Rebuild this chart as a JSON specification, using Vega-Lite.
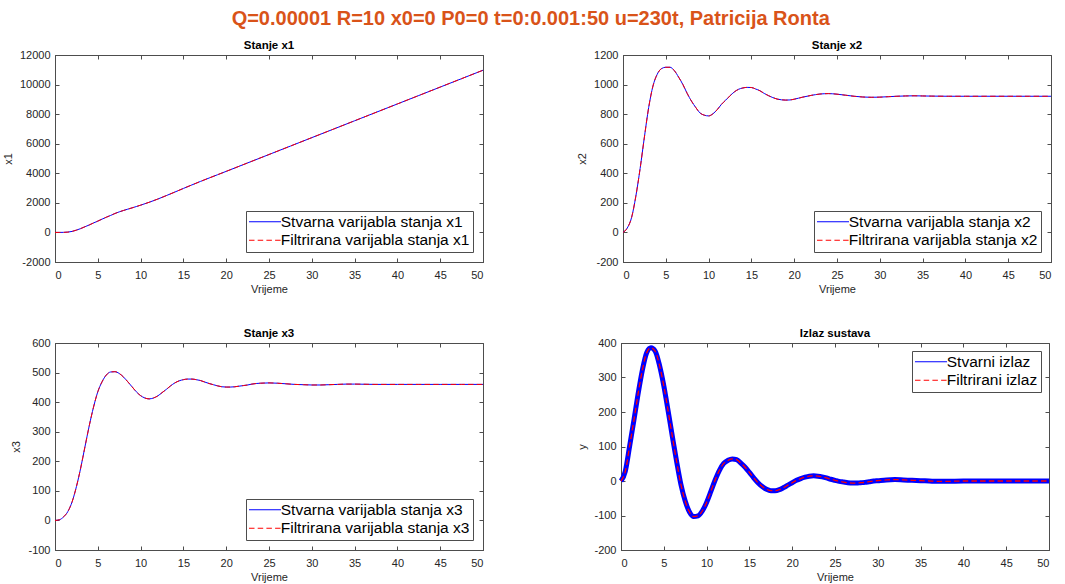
{
  "$schema": "https://vega.github.io/schema/vega-lite/v6.json",
  "title": {"text": "Q=0.00001 R=10 x0=0 P0=0 t=0:0.001:50 u=230t, Patricija Ronta", "fontSize": 20, "fontWeight": "bold", "color": "#D95319", "anchor": "middle", "frame": "bounds", "offset": 10},
  "padding": {"left": 1, "top": 9, "right": 12, "bottom": 2},
  "config": {
    "font": "Liberation Sans",
    "view": {"stroke": "#4d4d4d", "strokeWidth": 1},
    "axis": {"labelFont": "Liberation Sans", "labelFontSize": 11, "labelColor": "#262626", "titleFont": "Liberation Sans", "titleFontSize": 11, "titleFontWeight": "normal", "titleColor": "#262626", "tickColor": "#4d4d4d", "tickSize": -4, "domainColor": "#4d4d4d", "grid": false, "labelExpr": "'' + datum.value"},
    "axisX": {"labelPadding": 11, "titlePadding": 3},
    "axisY": {"labelPadding": 9, "titlePadding": 6},
    "legend": {"title": null, "offset": 10, "labelFont": "Liberation Sans", "labelFontSize": 15.5, "labelColor": "#000000", "labelLimit": 400, "symbolType": "M-1,0H7", "symbolSize": 64, "symbolOffset": -3.75, "symbolStrokeWidth": 1, "labelOffset": 20, "strokeColor": "#4d4d4d", "fillColor": "#ffffff", "padding": 3, "rowPadding": 1.5},
    "title": {"font": "Liberation Sans", "fontSize": 11.5, "fontWeight": "bold", "color": "#000000", "offset": -2}
  },
  "resolve": {"scale": {"color": "independent"}},
  "spacing": 32,
  "vconcat": [
    {
      "spacing": 90,
      "resolve": {"scale": {"color": "independent"}},
      "hconcat": [
        {
          "width": 428, "height": 207,
          "title": "Stanje x1",
          "data": {"values": [
            {"t":0,"s":0,"f":0},{"t":0.5,"s":1,"f":1},{"t":1,"s":5,"f":5},{"t":1.5,"s":22,"f":22},{"t":2,"s":70,"f":70},{"t":2.5,"s":155,"f":155},{"t":3,"s":260,"f":260},{"t":3.5,"s":385,"f":385},{"t":4,"s":505,"f":505},{"t":4.5,"s":640,"f":640},{"t":5,"s":765,"f":765},{"t":5.5,"s":900,"f":900},{"t":6,"s":1030,"f":1030},{"t":6.5,"s":1150,"f":1150},{"t":7,"s":1280,"f":1280},{"t":7.5,"s":1390,"f":1390},{"t":8,"s":1485,"f":1485},{"t":8.5,"s":1573,"f":1573},{"t":9,"s":1660,"f":1660},{"t":9.5,"s":1750,"f":1750},{"t":10,"s":1843,"f":1843},{"t":11,"s":2040,"f":2040},{"t":12,"s":2255,"f":2255},{"t":13,"s":2490,"f":2490},{"t":14,"s":2730,"f":2730},{"t":15,"s":2975,"f":2975},{"t":16,"s":3215,"f":3215},{"t":17,"s":3450,"f":3450},{"t":18,"s":3680,"f":3680},{"t":19,"s":3905,"f":3905},{"t":20,"s":4130,"f":4130},{"t":22.5,"s":4700,"f":4700},{"t":25,"s":5270,"f":5270},{"t":27.5,"s":5840,"f":5840},{"t":30,"s":6410,"f":6410},{"t":32.5,"s":6980,"f":6980},{"t":35,"s":7550,"f":7550},{"t":37.5,"s":8120,"f":8120},{"t":40,"s":8690,"f":8690},{"t":42.5,"s":9260,"f":9260},{"t":45,"s":9830,"f":9830},{"t":47.5,"s":10400,"f":10400},{"t":50,"s":10970,"f":10970}
          ]},
          "layer": [
            {"mark": {"type": "line", "strokeWidth": 1, "interpolate": "monotone"},
             "encoding": {
               "x": {"field": "t", "type": "quantitative", "scale": {"domain": [0, 50], "nice": false}, "axis": {"orient": "bottom", "title": "Vrijeme", "values": [0,5,10,15,20,25,30,35,40,45,50]}},
               "y": {"field": "s", "type": "quantitative", "scale": {"domain": [-2000, 12000], "nice": false}, "axis": {"orient": "left", "title": "x1", "values": [-2000,0,2000,4000,6000,8000,10000,12000]}},
               "color": {"datum": "Stvarna varijabla stanja x1", "scale": {"domain": ["Stvarna varijabla stanja x1", "Filtrirana varijabla stanja x1"], "range": ["#0000ff", "#ff0000"]}, "legend": {"orient": "bottom-right", "encode": {"symbols": {"update": {"strokeDash": {"signal": "datum.index == 1 ? [5.5, 3.2] : [1, 0]"}}}}}}
             }},
            {"mark": {"type": "line", "strokeWidth": 1, "strokeDash": [5.5, 3.2], "interpolate": "monotone"},
             "encoding": {
               "x": {"field": "t", "type": "quantitative", "axis": {"orient": "top", "title": null, "labels": false, "domain": false, "values": [0,5,10,15,20,25,30,35,40,45,50]}},
               "y": {"field": "f", "type": "quantitative", "axis": {"orient": "right", "title": null, "labels": false, "domain": false, "values": [-2000,0,2000,4000,6000,8000,10000,12000]}},
               "color": {"datum": "Filtrirana varijabla stanja x1"}
             }}
          ]
        },
        {
          "width": 428, "height": 207,
          "title": "Stanje x2",
          "data": {"values": [
            {"t":0,"s":0,"f":0},{"t":0.5,"s":30,"f":30},{"t":1,"s":100,"f":100},{"t":1.5,"s":245,"f":245},{"t":2,"s":432,"f":432},{"t":2.5,"s":645,"f":645},{"t":3,"s":845,"f":845},{"t":3.5,"s":990,"f":990},{"t":4,"s":1070,"f":1070},{"t":4.5,"s":1108,"f":1108},{"t":5,"s":1117,"f":1117},{"t":5.5,"s":1117,"f":1117},{"t":6,"s":1094,"f":1094},{"t":6.5,"s":1050,"f":1050},{"t":7,"s":1000,"f":1000},{"t":7.5,"s":940,"f":940},{"t":8,"s":888,"f":888},{"t":8.5,"s":845,"f":845},{"t":9,"s":808,"f":808},{"t":9.5,"s":793,"f":793},{"t":10,"s":788,"f":788},{"t":10.5,"s":802,"f":802},{"t":11,"s":830,"f":830},{"t":11.5,"s":866,"f":866},{"t":12,"s":895,"f":895},{"t":12.5,"s":924,"f":924},{"t":13,"s":950,"f":950},{"t":13.5,"s":968,"f":968},{"t":14,"s":977,"f":977},{"t":14.5,"s":981,"f":981},{"t":15,"s":980,"f":980},{"t":15.5,"s":970,"f":970},{"t":16,"s":958,"f":958},{"t":16.5,"s":940,"f":940},{"t":17,"s":925,"f":925},{"t":17.5,"s":912,"f":912},{"t":18,"s":902,"f":902},{"t":18.5,"s":897,"f":897},{"t":19,"s":895,"f":895},{"t":19.5,"s":896,"f":896},{"t":20,"s":901,"f":901},{"t":20.5,"s":908,"f":908},{"t":21,"s":915,"f":915},{"t":21.5,"s":921,"f":921},{"t":22,"s":927,"f":927},{"t":22.5,"s":932,"f":932},{"t":23,"s":936,"f":936},{"t":23.5,"s":938,"f":938},{"t":24,"s":939,"f":939},{"t":25,"s":935,"f":935},{"t":26,"s":928,"f":928},{"t":27,"s":921,"f":921},{"t":28,"s":916,"f":916},{"t":29,"s":914,"f":914},{"t":30,"s":915,"f":915},{"t":31,"s":918,"f":918},{"t":32,"s":921,"f":921},{"t":33,"s":923,"f":923},{"t":34,"s":924,"f":924},{"t":35,"s":923,"f":923},{"t":36,"s":922,"f":922},{"t":38,"s":921,"f":921},{"t":40,"s":921,"f":921},{"t":42.5,"s":921,"f":921},{"t":45,"s":921,"f":921},{"t":47.5,"s":921,"f":921},{"t":50,"s":921,"f":921}
          ]},
          "layer": [
            {"mark": {"type": "line", "strokeWidth": 1, "interpolate": "monotone"},
             "encoding": {
               "x": {"field": "t", "type": "quantitative", "scale": {"domain": [0, 50], "nice": false}, "axis": {"orient": "bottom", "title": "Vrijeme", "values": [0,5,10,15,20,25,30,35,40,45,50]}},
               "y": {"field": "s", "type": "quantitative", "scale": {"domain": [-200, 1200], "nice": false}, "axis": {"orient": "left", "title": "x2", "values": [-200,0,200,400,600,800,1000,1200]}},
               "color": {"datum": "Stvarna varijabla stanja x2", "scale": {"domain": ["Stvarna varijabla stanja x2", "Filtrirana varijabla stanja x2"], "range": ["#0000ff", "#ff0000"]}, "legend": {"orient": "bottom-right", "encode": {"symbols": {"update": {"strokeDash": {"signal": "datum.index == 1 ? [5.5, 3.2] : [1, 0]"}}}}}}
             }},
            {"mark": {"type": "line", "strokeWidth": 1, "strokeDash": [5.5, 3.2], "interpolate": "monotone"},
             "encoding": {
               "x": {"field": "t", "type": "quantitative", "axis": {"orient": "top", "title": null, "labels": false, "domain": false, "values": [0,5,10,15,20,25,30,35,40,45,50]}},
               "y": {"field": "f", "type": "quantitative", "axis": {"orient": "right", "title": null, "labels": false, "domain": false, "values": [-200,0,200,400,600,800,1000,1200]}},
               "color": {"datum": "Filtrirana varijabla stanja x2"}
             }}
          ]
        }
      ]
    },
    {
      "spacing": 90,
      "resolve": {"scale": {"color": "independent"}},
      "hconcat": [
        {
          "width": 428, "height": 207,
          "title": "Stanje x3",
          "data": {"values": [
            {"t":0,"s":0,"f":0},{"t":0.5,"s":2,"f":2},{"t":1,"s":12,"f":12},{"t":1.5,"s":30,"f":30},{"t":2,"s":63,"f":63},{"t":2.5,"s":114,"f":114},{"t":3,"s":177,"f":177},{"t":3.5,"s":249,"f":249},{"t":4,"s":320,"f":320},{"t":4.5,"s":383,"f":383},{"t":5,"s":435,"f":435},{"t":5.5,"s":469,"f":469},{"t":6,"s":492,"f":492},{"t":6.5,"s":502,"f":502},{"t":7,"s":503,"f":503},{"t":7.5,"s":497,"f":497},{"t":8,"s":485,"f":485},{"t":8.5,"s":469,"f":469},{"t":9,"s":452,"f":452},{"t":9.5,"s":435,"f":435},{"t":10,"s":422,"f":422},{"t":10.5,"s":414,"f":414},{"t":11,"s":411,"f":411},{"t":11.5,"s":414,"f":414},{"t":12,"s":421,"f":421},{"t":12.5,"s":432,"f":432},{"t":13,"s":443,"f":443},{"t":13.5,"s":455,"f":455},{"t":14,"s":465,"f":465},{"t":14.5,"s":472,"f":472},{"t":15,"s":476,"f":476},{"t":15.5,"s":478,"f":478},{"t":16,"s":478,"f":478},{"t":16.5,"s":476,"f":476},{"t":17,"s":473,"f":473},{"t":17.5,"s":468,"f":468},{"t":18,"s":463,"f":463},{"t":18.5,"s":459,"f":459},{"t":19,"s":455,"f":455},{"t":19.5,"s":452,"f":452},{"t":20,"s":451,"f":451},{"t":20.5,"s":451,"f":451},{"t":21,"s":452,"f":452},{"t":21.5,"s":454,"f":454},{"t":22,"s":456,"f":456},{"t":22.5,"s":458,"f":458},{"t":23,"s":461,"f":461},{"t":23.5,"s":463,"f":463},{"t":24,"s":464,"f":464},{"t":25,"s":465,"f":465},{"t":26,"s":464,"f":464},{"t":27,"s":462,"f":462},{"t":28,"s":460,"f":460},{"t":29,"s":459,"f":459},{"t":30,"s":458,"f":458},{"t":31,"s":458,"f":458},{"t":32,"s":459,"f":459},{"t":33,"s":460,"f":460},{"t":34,"s":461,"f":461},{"t":35,"s":461,"f":461},{"t":37.5,"s":460,"f":460},{"t":40,"s":460,"f":460},{"t":42.5,"s":460,"f":460},{"t":45,"s":460,"f":460},{"t":47.5,"s":460,"f":460},{"t":50,"s":460,"f":460}
          ]},
          "layer": [
            {"mark": {"type": "line", "strokeWidth": 1, "interpolate": "monotone"},
             "encoding": {
               "x": {"field": "t", "type": "quantitative", "scale": {"domain": [0, 50], "nice": false}, "axis": {"orient": "bottom", "title": "Vrijeme", "values": [0,5,10,15,20,25,30,35,40,45,50]}},
               "y": {"field": "s", "type": "quantitative", "scale": {"domain": [-100, 600], "nice": false}, "axis": {"orient": "left", "title": "x3", "values": [-100,0,100,200,300,400,500,600]}},
               "color": {"datum": "Stvarna varijabla stanja x3", "scale": {"domain": ["Stvarna varijabla stanja x3", "Filtrirana varijabla stanja x3"], "range": ["#0000ff", "#ff0000"]}, "legend": {"orient": "bottom-right", "encode": {"symbols": {"update": {"strokeDash": {"signal": "datum.index == 1 ? [5.5, 3.2] : [1, 0]"}}}}}}
             }},
            {"mark": {"type": "line", "strokeWidth": 1, "strokeDash": [5.5, 3.2], "interpolate": "monotone"},
             "encoding": {
               "x": {"field": "t", "type": "quantitative", "axis": {"orient": "top", "title": null, "labels": false, "domain": false, "values": [0,5,10,15,20,25,30,35,40,45,50]}},
               "y": {"field": "f", "type": "quantitative", "axis": {"orient": "right", "title": null, "labels": false, "domain": false, "values": [-100,0,100,200,300,400,500,600]}},
               "color": {"datum": "Filtrirana varijabla stanja x3"}
             }}
          ]
        },
        {
          "width": 428, "height": 207,
          "title": "Izlaz sustava",
          "data": {"values": [
            {"t":0,"s":0,"f":0},{"t":0.5,"s":28,"f":28},{"t":1,"s":100,"f":100},{"t":1.5,"s":175,"f":175},{"t":2,"s":253,"f":253},{"t":2.5,"s":322,"f":322},{"t":3,"s":372,"f":372},{"t":3.5,"s":386,"f":386},{"t":4,"s":376,"f":376},{"t":4.5,"s":335,"f":335},{"t":5,"s":276,"f":276},{"t":5.5,"s":204,"f":204},{"t":6,"s":129,"f":129},{"t":6.5,"s":56,"f":56},{"t":7,"s":-10,"f":-10},{"t":7.5,"s":-58,"f":-58},{"t":8,"s":-90,"f":-90},{"t":8.5,"s":-103,"f":-103},{"t":9,"s":-101,"f":-101},{"t":9.5,"s":-87,"f":-87},{"t":10,"s":-62,"f":-62},{"t":10.5,"s":-30,"f":-30},{"t":11,"s":3,"f":3},{"t":11.5,"s":31,"f":31},{"t":12,"s":51,"f":51},{"t":12.5,"s":60,"f":60},{"t":13,"s":64,"f":64},{"t":13.5,"s":62,"f":62},{"t":14,"s":52,"f":52},{"t":14.5,"s":40,"f":40},{"t":15,"s":25,"f":25},{"t":15.5,"s":9,"f":9},{"t":16,"s":-5,"f":-5},{"t":16.5,"s":-16,"f":-16},{"t":17,"s":-24,"f":-24},{"t":17.5,"s":-28,"f":-28},{"t":18,"s":-28,"f":-28},{"t":18.5,"s":-25,"f":-25},{"t":19,"s":-19,"f":-19},{"t":19.5,"s":-12,"f":-12},{"t":20,"s":-5,"f":-5},{"t":20.5,"s":2,"f":2},{"t":21,"s":7,"f":7},{"t":21.5,"s":11,"f":11},{"t":22,"s":14,"f":14},{"t":22.5,"s":15,"f":15},{"t":23,"s":14,"f":14},{"t":23.5,"s":12,"f":12},{"t":24,"s":9,"f":9},{"t":24.5,"s":5,"f":5},{"t":25,"s":2,"f":2},{"t":25.5,"s":-1,"f":-1},{"t":26,"s":-3,"f":-3},{"t":26.5,"s":-5,"f":-5},{"t":27,"s":-6,"f":-6},{"t":27.5,"s":-6,"f":-6},{"t":28,"s":-5,"f":-5},{"t":28.5,"s":-4,"f":-4},{"t":29,"s":-2,"f":-2},{"t":29.5,"s":0,"f":0},{"t":30,"s":1,"f":1},{"t":31,"s":3,"f":3},{"t":32,"s":4,"f":4},{"t":33,"s":3,"f":3},{"t":34,"s":2,"f":2},{"t":35,"s":1,"f":1},{"t":36,"s":0,"f":0},{"t":37,"s":-1,"f":-1},{"t":38,"s":-1,"f":-1},{"t":40,"s":0,"f":0},{"t":42.5,"s":0,"f":0},{"t":45,"s":0,"f":0},{"t":47.5,"s":0,"f":0},{"t":50,"s":0,"f":0}
          ]},
          "layer": [
            {"mark": {"type": "line", "strokeWidth": 5, "color": "#0000ff", "interpolate": "monotone"},
             "encoding": {
               "x": {"field": "t", "type": "quantitative", "scale": {"domain": [0, 50], "nice": false}, "axis": null},
               "y": {"field": "s", "type": "quantitative", "scale": {"domain": [-200, 400], "nice": false}, "axis": null}
             }},
            {"mark": {"type": "line", "strokeWidth": 1.3, "interpolate": "monotone"},
             "encoding": {
               "x": {"field": "t", "type": "quantitative", "axis": {"orient": "bottom", "title": "Vrijeme", "values": [0,5,10,15,20,25,30,35,40,45,50]}},
               "y": {"field": "s", "type": "quantitative", "axis": {"orient": "left", "title": "y", "values": [-200,-100,0,100,200,300,400]}},
               "color": {"datum": "Stvarni izlaz", "scale": {"domain": ["Stvarni izlaz", "Filtrirani izlaz"], "range": ["#0000ff", "#ff0000"]}, "legend": {"orient": "top-right", "offset": 8, "encode": {"symbols": {"update": {"strokeDash": {"signal": "datum.index == 1 ? [5.5, 3.2] : [1, 0]"}}}}}}
             }},
            {"mark": {"type": "line", "strokeWidth": 1.3, "strokeDash": [5.5, 3.2], "interpolate": "monotone"},
             "encoding": {
               "x": {"field": "t", "type": "quantitative", "axis": {"orient": "top", "title": null, "labels": false, "domain": false, "values": [0,5,10,15,20,25,30,35,40,45,50]}},
               "y": {"field": "f", "type": "quantitative", "axis": {"orient": "right", "title": null, "labels": false, "domain": false, "values": [-200,-100,0,100,200,300,400]}},
               "color": {"datum": "Filtrirani izlaz"}
             }}
          ]
        }
      ]
    }
  ]
}
